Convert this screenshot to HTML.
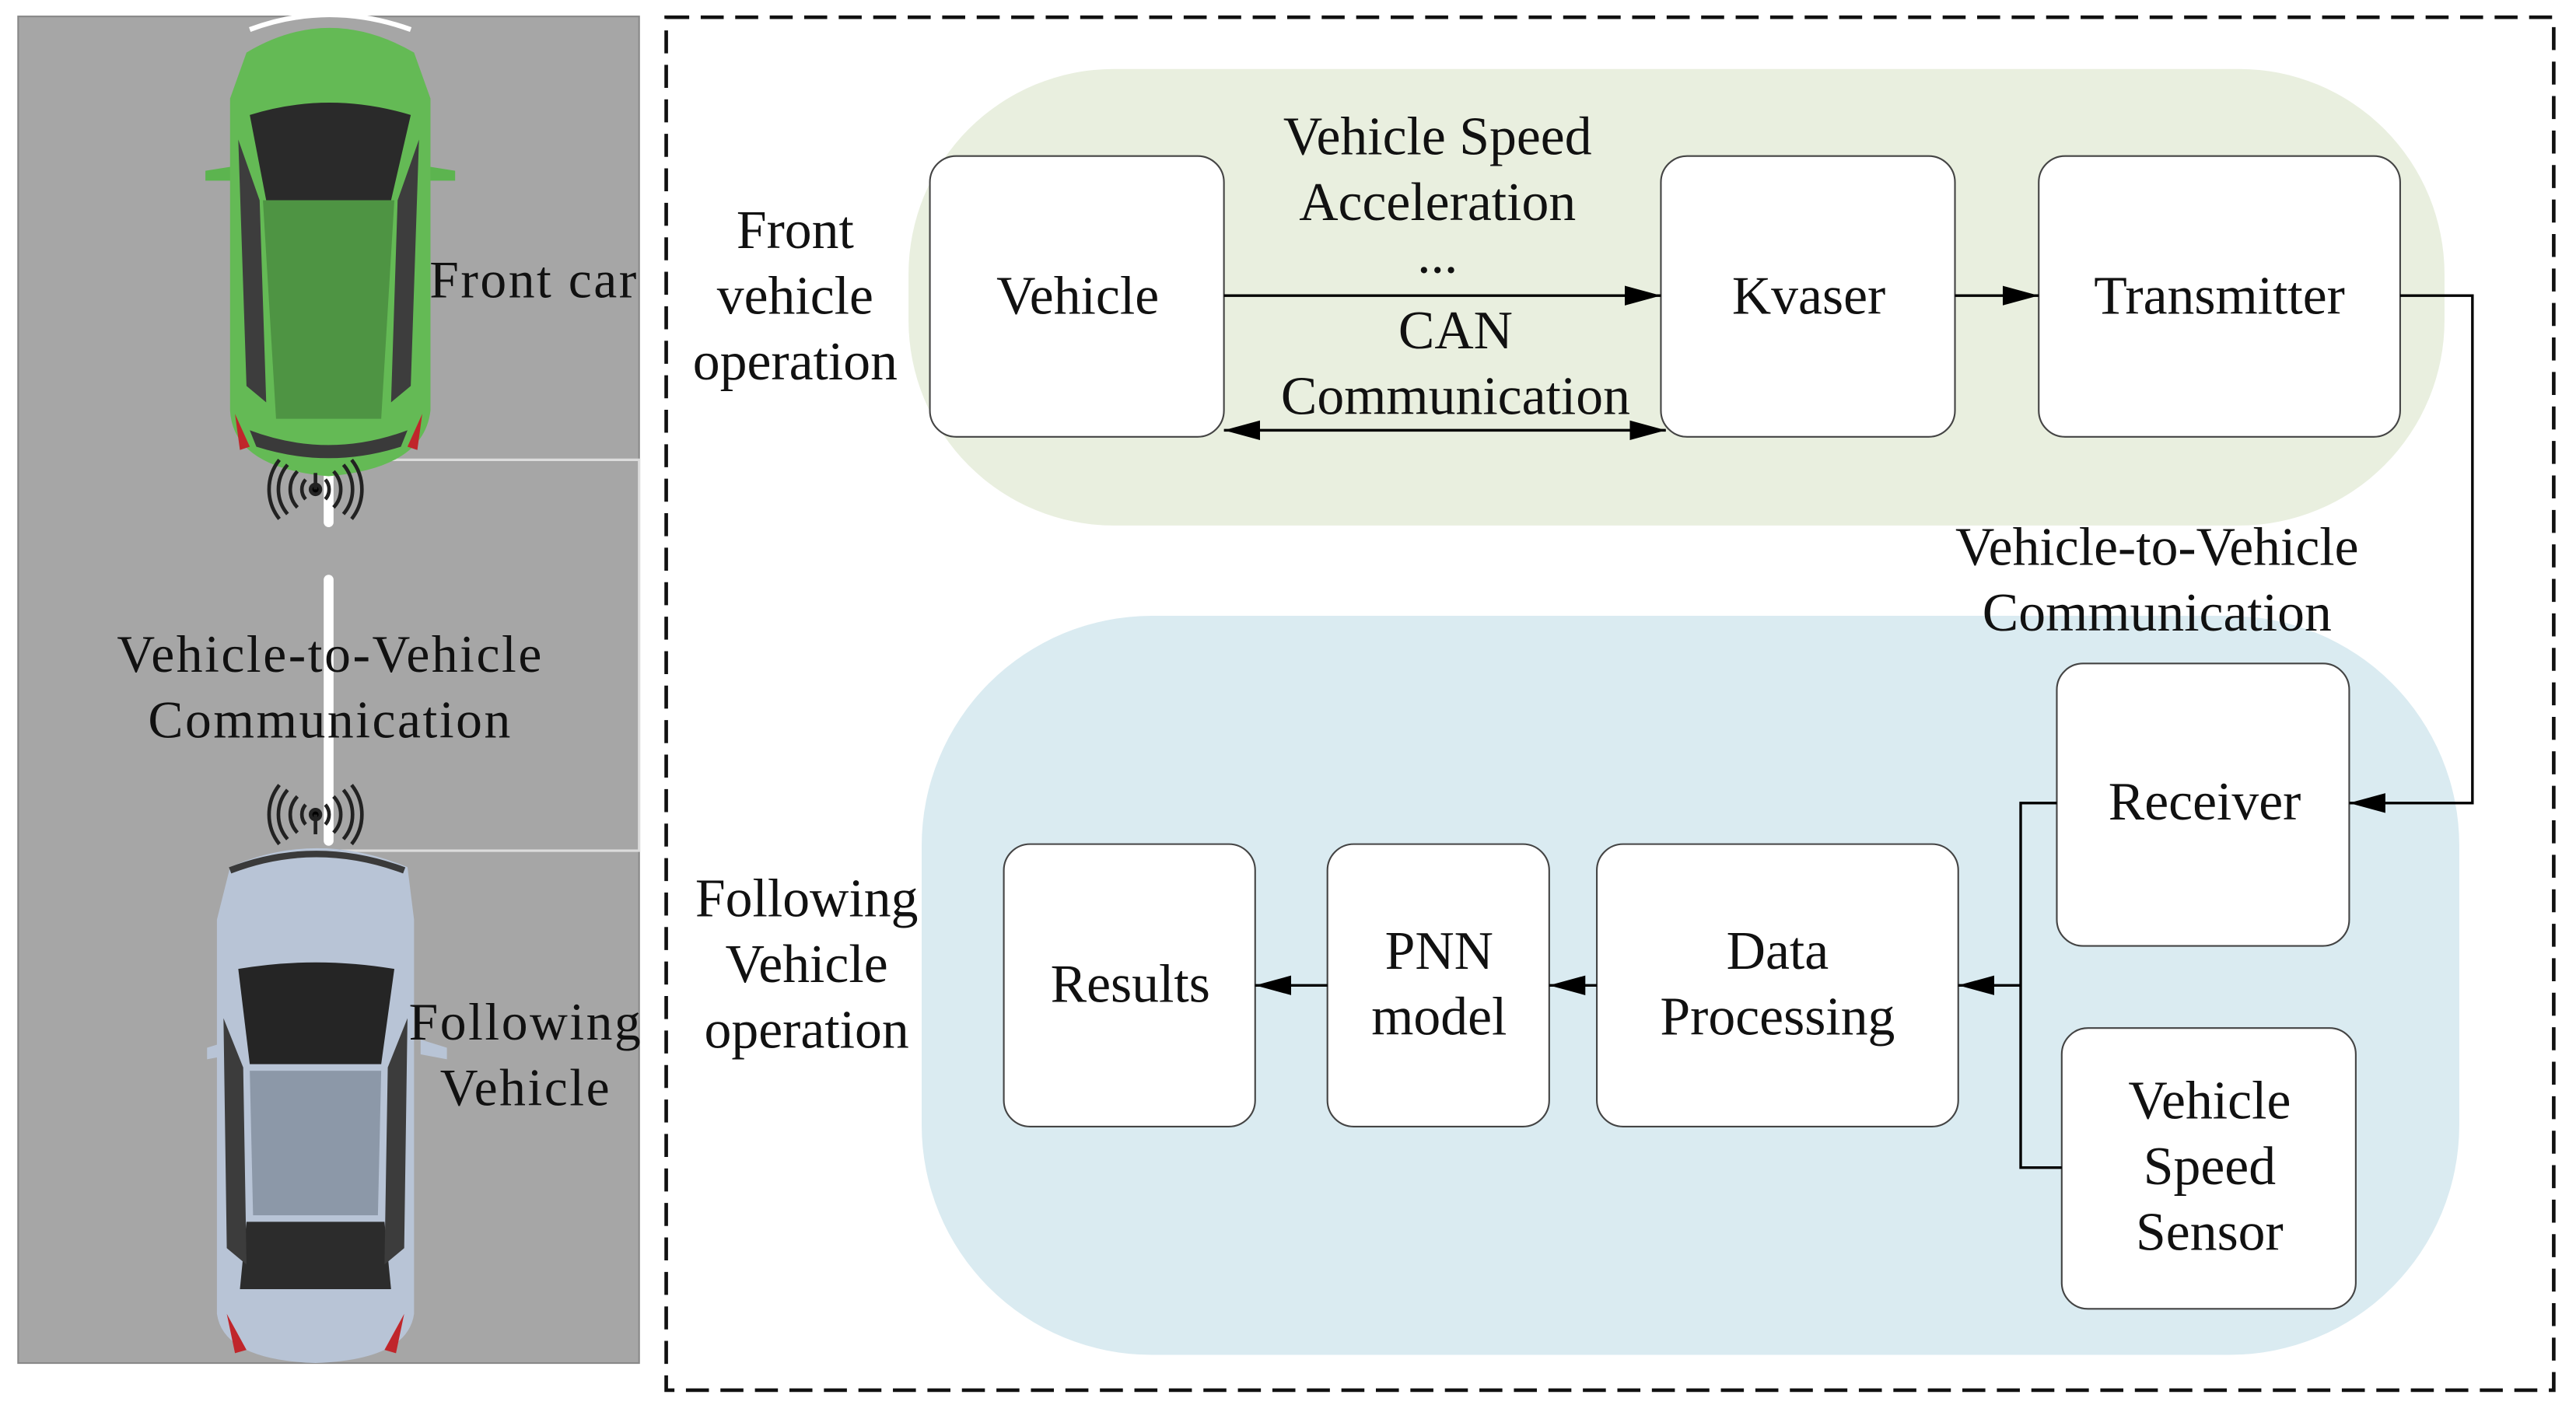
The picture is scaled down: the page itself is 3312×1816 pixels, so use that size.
<!DOCTYPE html>
<html><head><meta charset="utf-8"><style>
html,body{margin:0;padding:0;background:#fff;}
svg{display:block;}
text{font-family:"Liberation Serif",serif;fill:#111;}
</style></head><body>
<svg width="3312" height="1816" viewBox="0 0 1568 859.8" xmlns="http://www.w3.org/2000/svg">
<defs>
<marker id="ab" markerWidth="22" markerHeight="12" refX="22" refY="6" orient="auto" markerUnits="userSpaceOnUse"><path d="M0,0 L22,6 L0,12 z" fill="#000"/></marker>
<marker id="abs" markerWidth="22" markerHeight="12" refX="0" refY="6" orient="auto" markerUnits="userSpaceOnUse"><path d="M22,0 L0,6 L22,12 z" fill="#000"/></marker>
</defs>
<rect width="1568" height="860" fill="#fff"/>
<rect x="11" y="10" width="378" height="820" fill="#a6a6a6" stroke="#888" stroke-width="1"/>
<polyline points="200,280 389,280 389,518 200,518" fill="none" stroke="#dcdcdc" stroke-width="1.5"/>
<line x1="200" y1="282" x2="200" y2="318" stroke="#fff" stroke-width="6" stroke-linecap="round"/>
<line x1="200" y1="353" x2="200" y2="512" stroke="#fff" stroke-width="6" stroke-linecap="round"/>
<g>
<path d="M125,104 L150,100 L150,110 L125,110 Z M277,104 L252,100 L252,110 L277,110 Z" fill="#5cb44f"/>
<path d="M150,32 Q200,2 252,32 L262,60 L262,250 Q258,285 200,290 Q142,285 140,250 L140,60 Z" fill="#64ba55"/>
<path d="M152,18 Q200,0 250,18" stroke="#fff" stroke-width="3" fill="none"/>
<path d="M152,70 Q200,55 250,70 L238,122 L162,122 Z" fill="#2a2a2a"/>
<path d="M160,122 L240,122 L232,255 L168,255 Z" fill="#4e9443"/>
<path d="M145,85 L158,122 L162,245 L150,235 Z M255,85 L242,122 L238,245 L250,235 Z" fill="#3d3d3d"/>
<path d="M152,262 Q200,280 248,262 L244,272 Q200,286 156,272 Z" fill="#3a3a3a"/>
<path d="M143,252 L152,272 L146,274 Z M257,252 L248,272 L254,274 Z" fill="#c0262b"/>
</g>
<g>
<path d="M126,638 L142,633 L142,642 L126,645 Z M272,638 L256,633 L256,642 L272,645 Z" fill="#b8c4d6"/>
<path d="M140,528 Q192,505 248,528 L252,560 L252,800 Q248,828 192,830 Q136,828 132,800 L132,560 Z" fill="#b8c4d6"/>
<path d="M140,530 Q192,510 246,530" stroke="#3a3a3a" stroke-width="4" fill="none"/>
<path d="M145,590 Q192,582 240,590 L232,648 L152,648 Z" fill="#252525"/>
<path d="M152,652 L232,652 L230,740 L154,740 Z" fill="#8c98a8"/>
<path d="M150,744 L234,744 L238,785 L146,785 Z" fill="#2c2c2c"/>
<path d="M136,620 L148,650 L150,770 L138,760 Z M248,620 L236,650 L234,770 L246,760 Z" fill="#3c3c3c"/>
<path d="M138,800 L150,822 L143,824 Z M246,800 L234,822 L241,824 Z" fill="#c0262b"/>
</g>
<g fill="none" stroke="#222" stroke-width="2.2">
<g transform="translate(192,298)">
<path d="M-6,-6 A9,9 0 0 0 -6,6 M6,-6 A9,9 0 0 1 6,6"/>
<path d="M-11,-11 A16,16 0 0 0 -11,11 M11,-11 A16,16 0 0 1 11,11"/>
<path d="M-17,-15 A23,23 0 0 0 -17,15 M17,-15 A23,23 0 0 1 17,15"/>
<path d="M-22,-18 A29,29 0 0 0 -22,18 M22,-18 A29,29 0 0 1 22,18"/>
<circle cx="0" cy="0" r="3" fill="#000"/><line x1="0" y1="0" x2="0" y2="-10"/>
</g>
<g transform="translate(192,496)">
<path d="M-6,-6 A9,9 0 0 0 -6,6 M6,-6 A9,9 0 0 1 6,6"/>
<path d="M-11,-11 A16,16 0 0 0 -11,11 M11,-11 A16,16 0 0 1 11,11"/>
<path d="M-17,-15 A23,23 0 0 0 -17,15 M17,-15 A23,23 0 0 1 17,15"/>
<path d="M-22,-18 A29,29 0 0 0 -22,18 M22,-18 A29,29 0 0 1 22,18"/>
<circle cx="0" cy="0" r="3" fill="#000"/><line x1="0" y1="0" x2="0" y2="12"/>
</g>
</g>
<g font-size="32" letter-spacing="1.2">
<text x="325" y="181" text-anchor="middle">Front car</text>
<text x="201" y="409" text-anchor="middle">Vehicle-to-Vehicle</text>
<text x="201" y="449" text-anchor="middle">Communication</text>
<text x="320" y="633" text-anchor="middle">Following</text>
<text x="320" y="673" text-anchor="middle">Vehicle</text>
</g>
<rect x="405.5" y="10.5" width="1149" height="836" fill="none" stroke="#111" stroke-width="2.2" stroke-dasharray="14,7"/>
<rect x="553" y="42" width="935" height="278" rx="125" fill="#e9efdf"/>
<rect x="561" y="375" width="936" height="450" rx="140" fill="#daebf1"/>
<g fill="#fff" stroke="#444" stroke-width="1">
<rect x="566" y="95" width="179" height="171" rx="16"/>
<rect x="1011" y="95" width="179" height="171" rx="16"/>
<rect x="1241" y="95" width="220" height="171" rx="16"/>
<rect x="1252" y="404" width="178" height="172" rx="16"/>
<rect x="1255" y="626" width="179" height="171" rx="16"/>
<rect x="972" y="514" width="220" height="172" rx="16"/>
<rect x="808" y="514" width="135" height="172" rx="16"/>
<rect x="611" y="514" width="153" height="172" rx="16"/>
</g>
<g stroke="#000" stroke-width="1.6" fill="none">
<line x1="745" y1="180" x2="1011" y2="180" marker-end="url(#ab)"/>
<line x1="745" y1="262" x2="1014" y2="262" marker-end="url(#ab)" marker-start="url(#abs)"/>
<line x1="1190" y1="180" x2="1241" y2="180" marker-end="url(#ab)"/>
<polyline points="1461,180 1505,180 1505,489 1430,489" marker-end="url(#ab)"/>
<polyline points="1252,489 1230,489 1230,711 1255,711"/>
<line x1="1230" y1="600" x2="1192" y2="600" marker-end="url(#ab)"/>
<line x1="972" y1="600" x2="943" y2="600" marker-end="url(#ab)"/>
<line x1="808" y1="600" x2="764" y2="600" marker-end="url(#ab)"/>
</g>
<g font-size="33" text-anchor="middle">
<text x="656" y="191">Vehicle</text>
<text x="1101" y="191">Kvaser</text>
<text x="1351" y="191">Transmitter</text>
<text x="875" y="94">Vehicle Speed</text>
<text x="875" y="134">Acceleration</text>
<text x="875" y="166">...</text>
<text x="886" y="212">CAN</text>
<text x="886" y="252">Communication</text>
<text x="484" y="151">Front</text>
<text x="484" y="191">vehicle</text>
<text x="484" y="231">operation</text>
<text x="1313" y="344">Vehicle-to-Vehicle</text>
<text x="1313" y="384">Communication</text>
<text x="1342" y="499">Receiver</text>
<text x="1345" y="681">Vehicle</text>
<text x="1345" y="721">Speed</text>
<text x="1345" y="761">Sensor</text>
<text x="1082" y="590">Data</text>
<text x="1082" y="630">Processing</text>
<text x="876" y="590">PNN</text>
<text x="876" y="630">model</text>
<text x="688" y="610">Results</text>
<text x="491" y="558">Following</text>
<text x="491" y="598">Vehicle</text>
<text x="491" y="638">operation</text>
</g>
</svg>
</body></html>
